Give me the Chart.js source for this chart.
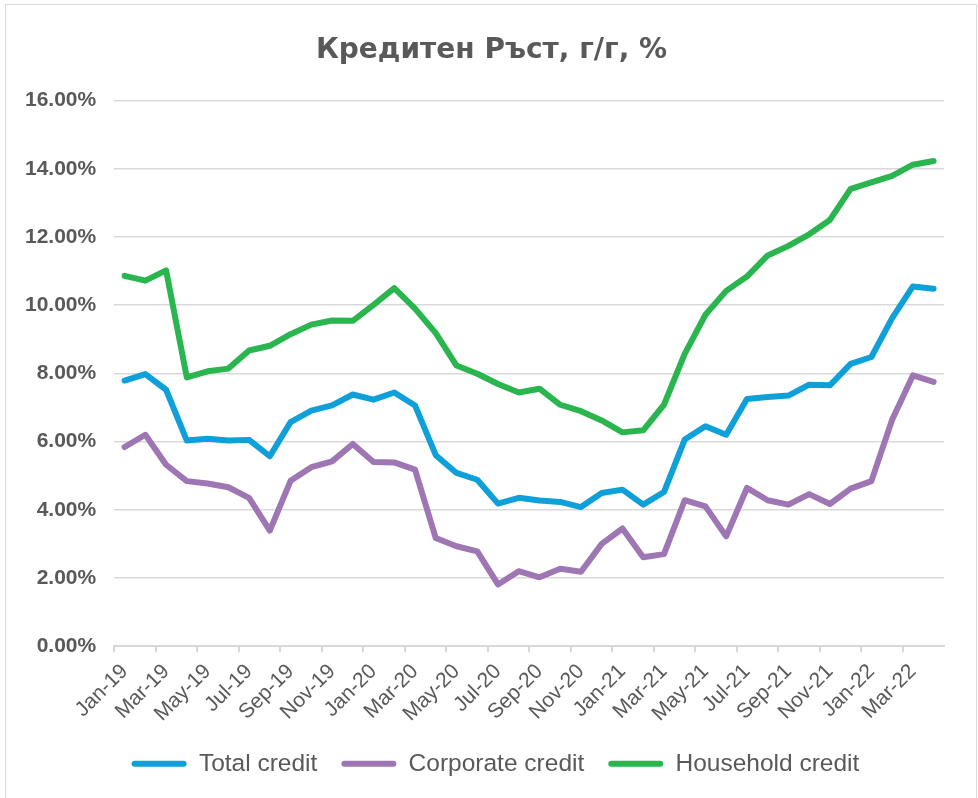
<!DOCTYPE html>
<html>
<head>
<meta charset="utf-8">
<script src="https://cdn.jsdelivr.net/npm/chart.js@4"></script>
<style>
  html, body { margin: 0; padding: 0; background: #fff; }
  #wrap { position: relative; width: 978px; height: 798px; }
  #frame {
    position: absolute; left: 5px; top: 4px; width: 970px; height: 800px;
    border: 1px solid #d9d9d9; pointer-events: none;
  }
</style>
</head>
<body>
<div id="wrap">
  <canvas id="chart" width="978" height="798"></canvas>
  <div id="frame"></div>
</div>
<script>
const months = [
  "Jan-19", "Feb-19", "Mar-19", "Apr-19", "May-19", "Jun-19", "Jul-19", "Aug-19", "Sep-19", "Oct-19", "Nov-19", "Dec-19",
  "Jan-20", "Feb-20", "Mar-20", "Apr-20", "May-20", "Jun-20", "Jul-20", "Aug-20", "Sep-20", "Oct-20", "Nov-20", "Dec-20",
  "Jan-21", "Feb-21", "Mar-21", "Apr-21", "May-21", "Jun-21", "Jul-21", "Aug-21", "Sep-21", "Oct-21", "Nov-21", "Dec-21",
  "Jan-22", "Feb-22", "Mar-22", "Apr-22"
];

const totalCredit = [
  7.79, 7.98, 7.52, 6.03, 6.08, 6.03, 6.05, 5.57, 6.57, 6.91, 7.06, 7.38,
  7.23, 7.44, 7.06, 5.60, 5.08, 4.88, 4.18, 4.35, 4.27, 4.23, 4.08, 4.49,
  4.59, 4.15, 4.52, 6.06, 6.45, 6.20, 7.25, 7.31, 7.35, 7.67, 7.65, 8.28,
  8.48, 9.62, 10.55, 10.48
];

const corporateCredit = [
  5.84, 6.20, 5.32, 4.84, 4.77, 4.66, 4.35, 3.39, 4.85, 5.25, 5.42, 5.93,
  5.40, 5.39, 5.18, 3.17, 2.93, 2.78, 1.81, 2.20, 2.02, 2.27, 2.18, 3.00,
  3.45, 2.61, 2.70, 4.28, 4.10, 3.22, 4.64, 4.28, 4.15, 4.46, 4.17, 4.62,
  4.84, 6.64, 7.94, 7.75
];

const householdCredit = [
  10.86, 10.72, 11.02, 7.88, 8.06, 8.14, 8.67, 8.81, 9.15, 9.43, 9.55, 9.54,
  10.01, 10.50, 9.90, 9.18, 8.23, 7.99, 7.69, 7.44, 7.55, 7.08, 6.89, 6.62,
  6.27, 6.33, 7.08, 8.57, 9.72, 10.42, 10.84, 11.46, 11.74, 12.08, 12.50, 13.41,
  13.60, 13.79, 14.12, 14.23
];

const seriesNames = ["Total credit", "Corporate credit", "Household credit"];
const chartTitle = "Кредитен Ръст, г/г, %";

const FONT = '"Liberation Sans", Arial, sans-serif';
const GREY = "#595959";
const GRID = "#d9d9d9";

function lineSet(label, data, color) {
  return {
    label: label,
    data: data,
    borderColor: color,
    backgroundColor: color,
    borderWidth: 6,
    borderCapStyle: "round",
    borderJoinStyle: "round",
    pointRadius: 0,
    pointHoverRadius: 0,
    tension: 0,
  };
}

// room under the legend row, and nudge title/legend to sit like the original
const nudge = {
  id: "nudge",
  beforeInit(chart) {
    const fit = chart.legend.fit;
    chart.legend.fit = function () {
      fit.call(this);
      this.height += 6;
    };
  },
  afterLayout(chart) {
    const t = chart.titleBlock;
    t.left += 16;
    t.right += 16;
    const l = chart.legend;
    l.left += 20;
    l.right += 20;
    l.top -= 6;
    l.bottom -= 6;
  },
};

const ctx = document.getElementById("chart");

new Chart(ctx, {
  type: "line",
  data: {
    labels: months,
    datasets: [
      lineSet(seriesNames[0], totalCredit, "#0fa0da"),
      lineSet(seriesNames[1], corporateCredit, "#9e76b4"),
      lineSet(seriesNames[2], householdCredit, "#2ab54f"),
    ],
  },
  plugins: [nudge],
  options: {
    responsive: false,
    animation: false,
    layout: {
      padding: { left: 7, right: 34, top: 0, bottom: 0 },
    },
    scales: {
      x: {
        offset: true,
        grid: {
          offset: true,
          drawOnChartArea: false,
          tickLength: 6,
          lineWidth: 2,
          color: (c) => (c.index % 2 === 0 ? GRID : "rgba(0,0,0,0)"),
        },
        border: { color: GRID, width: 2 },
        ticks: {
          autoSkip: false,
          maxRotation: 45,
          minRotation: 45,
          padding: 7,
          color: GREY,
          font: { family: FONT, size: 21 },
          callback: function (v, i) {
            return i % 2 === 0 ? this.getLabelForValue(v) : "";
          },
        },
      },
      y: {
        min: 0,
        max: 16,
        border: { display: false },
        grid: { color: GRID, lineWidth: 1.5, drawTicks: false },
        ticks: {
          stepSize: 2,
          padding: 18,
          color: GREY,
          font: { family: FONT, size: 21, weight: "bold" },
          callback: (v) => v.toFixed(2) + "%",
        },
      },
    },
    plugins: {
      title: {
        display: true,
        text: chartTitle,
        color: GREY,
        font: { family: '"DejaVu Sans", sans-serif', size: 28, weight: "bold" },
        padding: { top: 34, bottom: 33 },
      },
      legend: {
        position: "bottom",
        labels: {
          boxWidth: 55,
          boxHeight: 6,
          useBorderRadius: true,
          borderRadius: 3,
          padding: 24,
          color: GREY,
          font: { family: FONT, size: 24.5 },
          generateLabels: (chart) =>
            Chart.defaults.plugins.legend.labels.generateLabels(chart).map((l) => {
              l.lineWidth = 0;
              return l;
            }),
        },
      },
      tooltip: { enabled: false },
    },
  },
});
</script>
</body>
</html>
